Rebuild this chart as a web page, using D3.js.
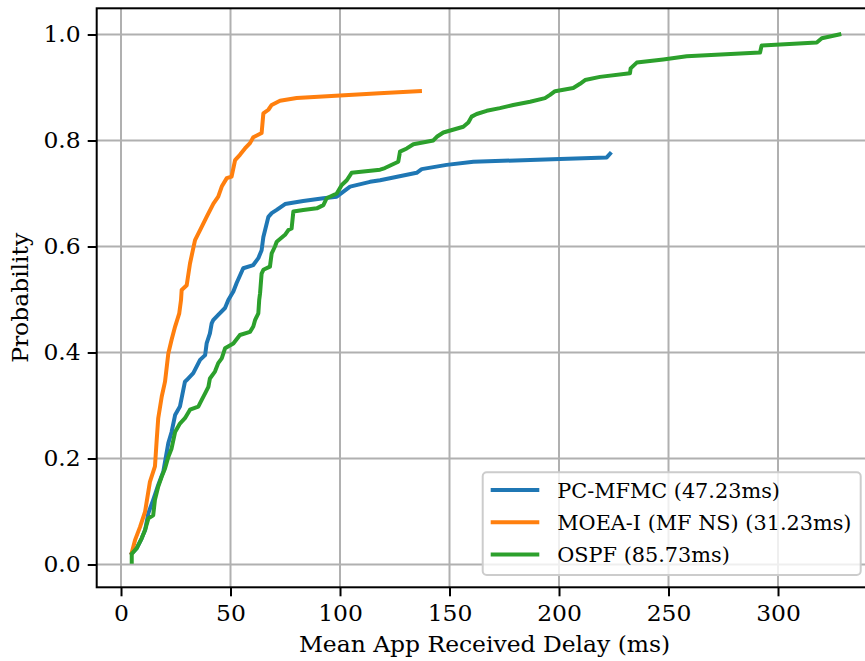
<!DOCTYPE html>
<html>
<head>
<meta charset="utf-8">
<script src="https://cdn.jsdelivr.net/npm/d3@7"></script>
<style>
  body { margin: 0; background: #fff; }
  svg text { font-family: "DejaVu Serif", serif; fill: #000; }
</style>
</head>
<body>
<div id="chart"></div>
<script>
// CDF of mean app received delay
const seriesNames = ["PC-MFMC (47.23ms)", "MOEA-I (MF NS) (31.23ms)", "OSPF (85.73ms)"];
const seriesColors = ["#1f77b4", "#ff7f0e", "#2ca02c"];

const pcDelay = [4.9, 7.2, 9.4, 11, 12.5, 14.7, 17, 19.3, 21.6, 23.1, 24.7, 26.9, 29.2, 30, 33, 36.1, 38.4, 39.1, 40.6, 41.4, 42.1, 44.4, 47.5, 49, 51.3, 52.8, 55.8, 60.4, 62.7, 64.2, 65, 65.8, 67.3, 68.8, 71.1, 74.9, 83.2, 92.4, 98.5, 104.6, 113.7, 118.3, 135, 137.3, 148.7, 160.9, 200.5, 221.8, 223.3];
const pcProb = [0.021, 0.031, 0.049, 0.065, 0.097, 0.122, 0.15, 0.175, 0.229, 0.25, 0.282, 0.298, 0.345, 0.348, 0.361, 0.386, 0.395, 0.417, 0.436, 0.455, 0.461, 0.471, 0.484, 0.499, 0.515, 0.531, 0.559, 0.565, 0.578, 0.593, 0.618, 0.631, 0.656, 0.663, 0.669, 0.68, 0.686, 0.691, 0.694, 0.713, 0.722, 0.725, 0.739, 0.746, 0.754, 0.76, 0.765, 0.768, 0.775];

const moeaDelay = [4.9, 6.4, 8.7, 11, 13.2, 15.5, 16.3, 17, 18.6, 20.1, 21.6, 23.1, 24.7, 26.6, 27.4, 27.7, 30, 31.5, 33.8, 36.1, 39.1, 42.2, 44.4, 46, 48.3, 50.5, 52.1, 54.3, 56.6, 58.9, 60.4, 64.2, 65, 67.3, 68.8, 72.6, 80.2, 100, 118, 136.5];
const moeaProb = [0.022, 0.046, 0.071, 0.1, 0.156, 0.185, 0.235, 0.276, 0.317, 0.345, 0.398, 0.424, 0.449, 0.474, 0.499, 0.518, 0.527, 0.568, 0.612, 0.631, 0.656, 0.681, 0.694, 0.713, 0.729, 0.732, 0.763, 0.773, 0.785, 0.795, 0.806, 0.814, 0.851, 0.858, 0.867, 0.875, 0.88, 0.885, 0.889, 0.893];

const ospfDelay = [4.9, 4.9, 7.2, 9.4, 11, 12.5, 14.7, 15.5, 17, 18.6, 20.1, 21.6, 23.1, 24.7, 26.9, 29.2, 31.5, 35.3, 36.8, 38.4, 39.9, 40.6, 42.9, 44.4, 46, 47.5, 51.3, 54.3, 58.9, 60.4, 61.2, 62.7, 63.1, 63.5, 64.2, 65, 68, 68.8, 70.3, 71.1, 74.9, 76.4, 77.9, 78.7, 83.2, 89.4, 92.4, 93.9, 98.5, 100.8, 103.1, 105.3, 118.3, 120.5, 126.6, 127.4, 130.5, 133.5, 142.6, 144.2, 147.2, 156.3, 158.6, 160.1, 162.4, 167, 173, 179.1, 186.8, 193.6, 195.9, 198.2, 206.5, 209.6, 211.9, 218.7, 232.4, 232.7, 235.5, 247.6, 258.3, 291.8, 292.5, 317.7, 320, 328];
const ospfProb = [0.005, 0.02, 0.031, 0.049, 0.065, 0.087, 0.093, 0.122, 0.147, 0.166, 0.181, 0.203, 0.219, 0.25, 0.266, 0.276, 0.292, 0.298, 0.31, 0.323, 0.335, 0.351, 0.364, 0.38, 0.389, 0.408, 0.417, 0.433, 0.439, 0.449, 0.461, 0.474, 0.499, 0.512, 0.549, 0.556, 0.562, 0.587, 0.6, 0.609, 0.622, 0.631, 0.634, 0.666, 0.669, 0.672, 0.678, 0.691, 0.7, 0.716, 0.725, 0.739, 0.745, 0.748, 0.76, 0.779, 0.785, 0.793, 0.8, 0.807, 0.815, 0.826, 0.834, 0.845, 0.85, 0.856, 0.861, 0.867, 0.873, 0.88, 0.886, 0.893, 0.899, 0.907, 0.914, 0.92, 0.927, 0.936, 0.947, 0.953, 0.959, 0.966, 0.979, 0.985, 0.993, 1.0];

const xTicks = [0, 50, 100, 150, 200, 250, 300];
const yTicks = [0.0, 0.2, 0.4, 0.6, 0.8, 1.0];

const width = 865, height = 661;
const plot = { left: 96.7, top: 8.3, right: 872.4, bottom: 587.3 };
const axisFont = 21.5, stretch = 1.09;   // tick + axis label text is a bit wider in the original
const legendFont = 20.8;

const x = d3.scaleLinear().domain([-11.1, 343.1]).range([plot.left, plot.right]);
const y = d3.scaleLinear().domain([-0.043, 1.0494]).range([plot.bottom, plot.top]);

const svg = d3.select("#chart").append("svg")
    .attr("width", width)
    .attr("height", height);

svg.append("defs").append("clipPath").attr("id", "plot-clip")
    .append("rect")
    .attr("x", plot.left).attr("y", plot.top)
    .attr("width", plot.right - plot.left).attr("height", plot.bottom - plot.top);

// grid
let grid = svg.append("g").attr("class", "grid");
grid.selectAll(".gx").data(xTicks).enter().append("line")
    .attr("x1", d => x(d)).attr("x2", d => x(d))
    .attr("y1", plot.top).attr("y2", plot.bottom)
    .attr("stroke", "#b0b0b0").attr("stroke-width", 2);
grid.selectAll(".gy").data(yTicks).enter().append("line")
    .attr("x1", plot.left).attr("x2", plot.right)
    .attr("y1", d => y(d)).attr("y2", d => y(d))
    .attr("stroke", "#b0b0b0").attr("stroke-width", 2);

// lines
const series = [
    { delay: pcDelay, prob: pcProb },
    { delay: moeaDelay, prob: moeaProb },
    { delay: ospfDelay, prob: ospfProb }
];
const line = d3.line().x(d => x(d[0])).y(d => y(d[1]));

svg.append("g").attr("clip-path", "url(#plot-clip)")
    .selectAll("path").data(series).enter().append("path")
    .attr("d", s => line(s.delay.map((v, i) => [v, s.prob[i]])))
    .attr("fill", "none")
    .attr("stroke", (s, i) => seriesColors[i])
    .attr("stroke-width", 4)
    .attr("stroke-linejoin", "round")
    .attr("stroke-linecap", "square");

// axes
let xAxis = svg.append("g")
    .attr("transform", `translate(0,${plot.bottom})`)
    .call(d3.axisBottom(x).tickValues(xTicks).tickFormat(d3.format("d")).tickSize(9).tickPadding(9));
let yAxis = svg.append("g")
    .attr("transform", `translate(${plot.left},0)`)
    .call(d3.axisLeft(y).tickValues(yTicks).tickFormat(d3.format(".1f")).tickSize(9).tickPadding(7));
[xAxis, yAxis].forEach(a => {
    a.select(".domain").remove();
    a.selectAll(".tick line").attr("stroke", "#000").attr("stroke-width", 2);
    a.selectAll(".tick text").style("font-family", "DejaVu Serif").attr("font-size", axisFont).attr("fill", "#000");
});
xAxis.selectAll(".tick text").attr("transform", `scale(${stretch},1)`);
yAxis.selectAll(".tick text")
    .attr("x", -16 / stretch)
    .attr("transform", `scale(${stretch},1)`);

// frame
svg.append("rect")
    .attr("x", plot.left).attr("y", plot.top)
    .attr("width", plot.right - plot.left).attr("height", plot.bottom - plot.top)
    .attr("fill", "none").attr("stroke", "#000").attr("stroke-width", 2);

// axis labels
svg.append("text")
    .attr("transform", `translate(${(plot.left + plot.right) / 2},652) scale(${stretch},1)`)
    .attr("text-anchor", "middle")
    .attr("font-size", axisFont)
    .text("Mean App Received Delay (ms)");
svg.append("text")
    .attr("transform", `translate(28,${(plot.top + plot.bottom) / 2}) rotate(-90) scale(${stretch},1)`)
    .attr("text-anchor", "middle")
    .attr("font-size", axisFont)
    .text("Probability");

// legend
let legend = svg.append("g");
legend.append("rect")
    .attr("x", 482.7).attr("y", 472.3)
    .attr("width", 378).attr("height", 102.7)
    .attr("rx", 4)
    .attr("fill", "#fff").attr("fill-opacity", 0.8)
    .attr("stroke", "#cccccc").attr("stroke-width", 2);
let rows = legend.selectAll(".row").data(seriesNames).enter().append("g")
    .attr("transform", (d, i) => `translate(0,${490 + i * 32.2})`);
rows.append("line")
    .attr("x1", 490.7).attr("x2", 539.3)
    .attr("stroke", (d, i) => seriesColors[i])
    .attr("stroke-width", 4);
rows.append("text")
    .attr("x", 557.3).attr("y", 7.8)
    .attr("font-size", legendFont)
    .text(d => d);
</script>
</body>
</html>
